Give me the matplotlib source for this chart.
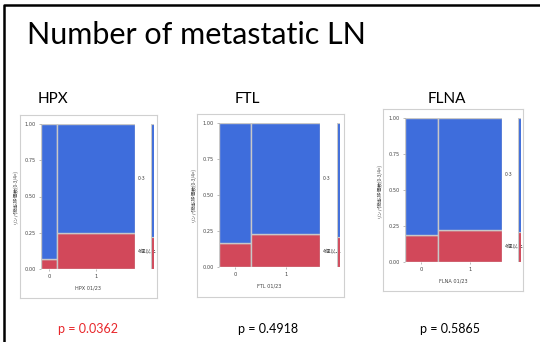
import matplotlib
matplotlib.use("Agg")
import matplotlib.pyplot as plt
from matplotlib.patches import Rectangle

genes = ["HPX", "FTL", "FLNA"]
x_labels = ["HPX 01/23", "FTL 01/23", "FLNA 01/23"]
p_values = ["p = 0.0362", "p = 0.4918", "p = 0.5865"]
p_colors = ["#e8262a", "#000000", "#000000"]
group_labels = ["0", "1"]
level_labels = ["0-3", "4個以上"]
col0_width = [0.17, 0.32, 0.34]
red_col0 = [0.07, 0.17, 0.19]
red_col1 = [0.25, 0.23, 0.22]
y_ticks = [0.0, 0.25, 0.5, 0.75, 1.0]
y_label = "リンパ節転移個数(0-3/4<)"

W, H = 540, 342
BLUE = "#3e6ddc"
RED = "#d2485a"
EDGE = "#c8c8c8"
FONT = ["Lato", "DejaVu Sans"]
JP = ["Noto Sans CJK JP", "DejaVu Sans"]

fig = plt.figure(figsize=(W / 100, H / 100), dpi=100)
fig.patch.set_facecolor("white")

def px_axes(x0, y0, x1, y1, **kw):
    return fig.add_axes([x0 / W, 1 - y1 / H, (x1 - x0) / W, (y1 - y0) / H], **kw)

# slide border
border = px_axes(0, 0, W, H)
border.set_xlim(0, W); border.set_ylim(H, 0); border.axis("off")
border.plot([4, 4, W], [H, 5, 5], color="black", lw=1.8, solid_capstyle="butt")

fig.text(27 / W, 1 - 44 / H, "Number of metastatic LN", fontsize=22,
         family=FONT, va="baseline", ha="left")

frames = [(20, 115, 157, 298), (197, 114, 344, 297), (383, 109, 523, 291)]
plots = [(41, 124, 135, 269), (219, 123, 320, 267), (405, 118, 502, 262)]
bars = [(151, 154), (337, 340), (518, 521)]
gene_x = [38, 235, 428]
p_x = [58, 238, 420]

for i in range(3):
    fx0, fy0, fx1, fy1 = frames[i]
    fr = px_axes(fx0, fy0, fx1, fy1)
    fr.set_xticks([]); fr.set_yticks([])
    for s in fr.spines.values():
        s.set_color("#d0d0d0"); s.set_linewidth(0.8)
    fr.set_zorder(0)

    x0, y0, x1, y1 = plots[i]
    ax = px_axes(x0, y0, x1, y1)
    ax.set_zorder(1)
    w0 = col0_width[i]
    widths = [w0, 1 - w0]
    lefts = [0, w0]
    reds = [red_col0[i], red_col1[i]]
    for l, w, r in zip(lefts, widths, reds):
        ax.add_patch(Rectangle((l, 0), w, r, facecolor=RED, edgecolor=EDGE, lw=1.0))
        ax.add_patch(Rectangle((l, r), w, 1 - r, facecolor=BLUE, edgecolor=EDGE, lw=1.0))
    ax.set_xlim(0, 1); ax.set_ylim(0, 1)
    for s in ax.spines.values():
        s.set_visible(False)
    ax.set_yticks(y_ticks)
    ax.set_yticklabels([f"{t:.2f}" for t in y_ticks], fontsize=3.6, color="#444444")
    ax.set_xticks([l + w / 2 for l, w in zip(lefts, widths)])
    ax.set_xticklabels(group_labels, fontsize=3.8, color="#444444")
    ax.tick_params(length=1.5, width=0.4, color="#888888", pad=2)
    ax.set_xlabel(x_labels[i], fontsize=3.6, color="#444444", labelpad=5)
    ax.set_ylabel(y_label, fontsize=3.4, family=JP, color="#444444", labelpad=5)
    ax.text(1.03, reds[1] + (1 - reds[1]) / 2, level_labels[0], fontsize=3.8,
            family=JP, color="#444444", va="center", ha="left", transform=ax.transAxes)
    ax.text(1.03, reds[1] / 2, level_labels[1], fontsize=3.8,
            family=JP, color="#444444", va="center", ha="left", transform=ax.transAxes)

    # overall bar
    bx0, bx1 = bars[i]
    bx = px_axes(bx0, y0, bx1, y1)
    bx.set_zorder(1)
    overall = w0 * red_col0[i] + (1 - w0) * red_col1[i]
    bx.add_patch(Rectangle((0, 0), 1, overall, facecolor=RED, edgecolor=EDGE, lw=0.8))
    bx.add_patch(Rectangle((0, overall), 1, 1 - overall, facecolor=BLUE, edgecolor=EDGE, lw=0.8))
    bx.set_xlim(0, 1); bx.set_ylim(0, 1); bx.axis("off")

    fig.text(gene_x[i] / W, 1 - 103 / H, genes[i], fontsize=11, family=FONT,
             va="baseline", ha="left")
    fig.text(p_x[i] / W, 1 - 333 / H, p_values[i], fontsize=9.0, family=FONT,
             color=p_colors[i], va="baseline", ha="left")

fig.savefig("out.png", dpi=100, facecolor="white")
